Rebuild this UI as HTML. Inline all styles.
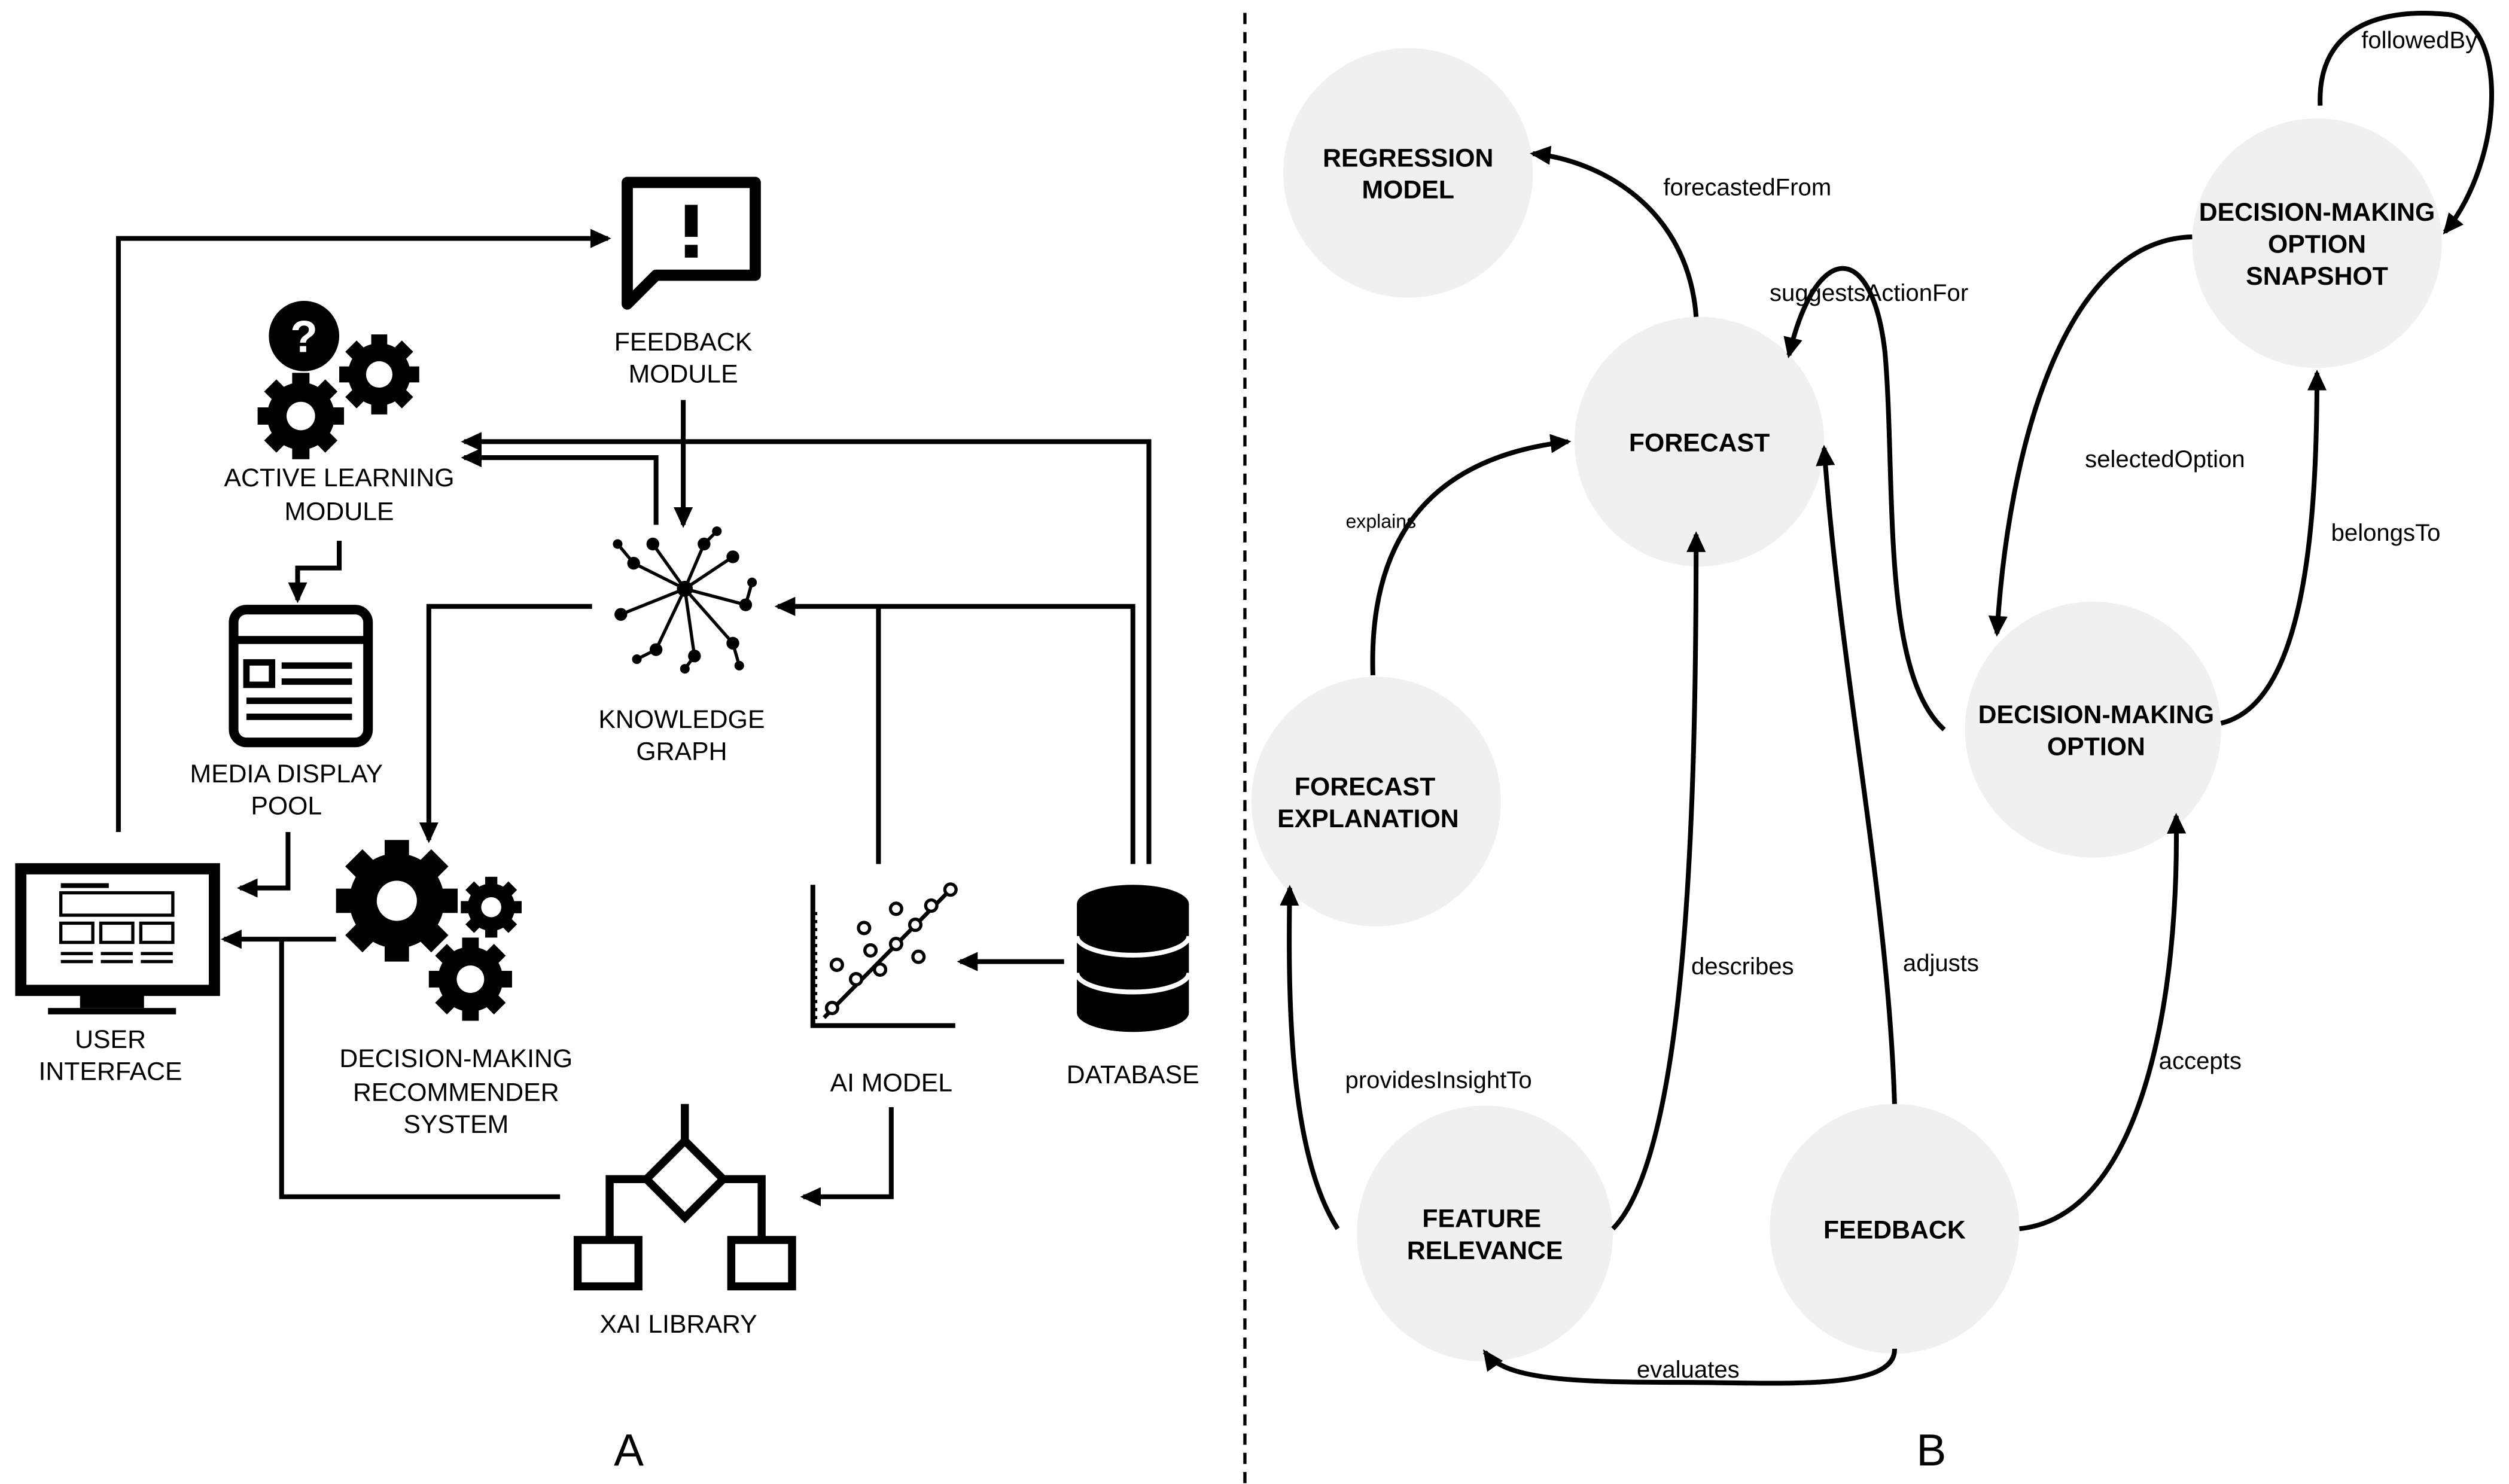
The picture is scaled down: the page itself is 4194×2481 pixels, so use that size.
<!DOCTYPE html>
<html><head><meta charset="utf-8"><style>
html,body{margin:0;padding:0;background:#fff;}
svg{display:block;}
text{font-family:"Liberation Sans",Arial,sans-serif;}
</style></head><body>
<svg width="4194" height="2481" viewBox="0 0 1568 927.5" xmlns="http://www.w3.org/2000/svg">
<defs>
<marker id="ar" markerUnits="userSpaceOnUse" markerWidth="13" markerHeight="12" refX="11" refY="6" orient="auto"><path d="M0,0 L13,6 L0,12 z" fill="#000"/></marker>
<g id="gear">
<circle r="0.78" fill="#000"/>
<rect x="-0.2" y="-1" width="0.4" height="0.4" fill="#000"/>
<rect x="-0.2" y="-1" width="0.4" height="0.4" fill="#000" transform="rotate(45)"/>
<rect x="-0.2" y="-1" width="0.4" height="0.4" fill="#000" transform="rotate(90)"/>
<rect x="-0.2" y="-1" width="0.4" height="0.4" fill="#000" transform="rotate(135)"/>
<rect x="-0.2" y="-1" width="0.4" height="0.4" fill="#000" transform="rotate(180)"/>
<rect x="-0.2" y="-1" width="0.4" height="0.4" fill="#000" transform="rotate(225)"/>
<rect x="-0.2" y="-1" width="0.4" height="0.4" fill="#000" transform="rotate(270)"/>
<rect x="-0.2" y="-1" width="0.4" height="0.4" fill="#000" transform="rotate(315)"/>
<circle r="0.33" fill="#fff"/>
</g>
</defs>
<rect width="1568" height="927.5" fill="#fff"/>
<line x1="778" y1="8" x2="778" y2="927" stroke="#000" stroke-width="2" stroke-dasharray="7,5"/>

<g font-size="16" text-anchor="middle" fill="#000">
<path d="M392,114 H472 V172 H410 L392,190 Z" fill="none" stroke="#000" stroke-width="7" stroke-linejoin="round"/>
<rect x="428" y="128" width="8" height="20" fill="#000"/><rect x="428" y="153" width="8" height="8" fill="#000"/>
<text x="427" y="219">FEEDBACK</text><text x="427" y="239">MODULE</text>
<use href="#gear" transform="translate(237,234) scale(25)"/>
<use href="#gear" transform="translate(188,260) scale(27)"/>
<circle cx="190" cy="210" r="22" fill="#000"/>
<text x="190" y="220" fill="#fff" font-size="28" font-weight="bold">?</text>
<text x="212" y="304">ACTIVE LEARNING</text><text x="212" y="325">MODULE</text>
<rect x="146" y="381" width="84" height="83" rx="8" fill="none" stroke="#000" stroke-width="6"/>
<line x1="146" y1="400" x2="230" y2="400" stroke="#000" stroke-width="5"/>
<rect x="154" y="414" width="16" height="14" fill="none" stroke="#000" stroke-width="4"/>
<line x1="176" y1="416" x2="220" y2="416" stroke="#000" stroke-width="4"/>
<line x1="176" y1="426" x2="220" y2="426" stroke="#000" stroke-width="4"/>
<line x1="154" y1="438" x2="220" y2="438" stroke="#000" stroke-width="4"/>
<line x1="154" y1="448" x2="220" y2="448" stroke="#000" stroke-width="4"/>
<text x="179" y="489">MEDIA DISPLAY</text><text x="179" y="509">POOL</text>
<g stroke="#000" stroke-width="2">
<line x1="428" y1="368" x2="396" y2="352"/><line x1="428" y1="368" x2="408" y2="340"/><line x1="428" y1="368" x2="440" y2="340"/>
<line x1="428" y1="368" x2="458" y2="348"/><line x1="428" y1="368" x2="466" y2="378"/><line x1="428" y1="368" x2="458" y2="402"/>
<line x1="428" y1="368" x2="434" y2="410"/><line x1="428" y1="368" x2="410" y2="406"/><line x1="428" y1="368" x2="388" y2="384"/>
<line x1="396" y1="352" x2="386" y2="340"/><line x1="440" y1="340" x2="448" y2="332"/><line x1="458" y1="402" x2="462" y2="416"/>
<line x1="410" y1="406" x2="398" y2="412"/><line x1="466" y1="378" x2="470" y2="364"/><line x1="434" y1="410" x2="428" y2="418"/>
</g>
<g fill="#000">
<circle cx="428" cy="368" r="5"/><circle cx="396" cy="352" r="4"/><circle cx="408" cy="340" r="4"/><circle cx="440" cy="340" r="4"/>
<circle cx="458" cy="348" r="4"/><circle cx="466" cy="378" r="4"/><circle cx="458" cy="402" r="4"/><circle cx="434" cy="410" r="4"/>
<circle cx="410" cy="406" r="4"/><circle cx="388" cy="384" r="4"/><circle cx="386" cy="340" r="3"/><circle cx="448" cy="332" r="3"/>
<circle cx="462" cy="416" r="3"/><circle cx="398" cy="412" r="3"/><circle cx="470" cy="364" r="3"/><circle cx="428" cy="418" r="3"/>
</g>
<text x="426" y="455">KNOWLEDGE</text><text x="426" y="475">GRAPH</text>
<rect x="13" y="543" width="121" height="76" fill="none" stroke="#000" stroke-width="7"/>
<rect x="50" y="620" width="40" height="10" fill="#000"/>
<rect x="30" y="630" width="80" height="4" fill="#000"/>
<rect x="38" y="552" width="30" height="3" fill="#000"/>
<rect x="38" y="558" width="70" height="14" fill="none" stroke="#000" stroke-width="2"/>
<rect x="38" y="577" width="20" height="12" fill="none" stroke="#000" stroke-width="2"/>
<rect x="63" y="577" width="20" height="12" fill="none" stroke="#000" stroke-width="2"/>
<rect x="88" y="577" width="20" height="12" fill="none" stroke="#000" stroke-width="2"/>
<g stroke="#000" stroke-width="2"><line x1="38" y1="596" x2="58" y2="596"/><line x1="63" y1="596" x2="83" y2="596"/><line x1="88" y1="596" x2="108" y2="596"/>
<line x1="38" y1="601" x2="58" y2="601"/><line x1="63" y1="601" x2="83" y2="601"/><line x1="88" y1="601" x2="108" y2="601"/></g>
<text x="69" y="655">USER</text><text x="69" y="675">INTERFACE</text>
<use href="#gear" transform="translate(248,563) scale(38)"/>
<use href="#gear" transform="translate(307,567) scale(19)"/>
<use href="#gear" transform="translate(294,612) scale(26)"/>
<text x="285" y="667">DECISION-MAKING</text><text x="285" y="688">RECOMMENDER</text><text x="285" y="708">SYSTEM</text>
<path d="M508,553 V641 H597" fill="none" stroke="#000" stroke-width="3"/>
<g stroke="#000" stroke-width="1.5" stroke-dasharray="2,3"><line x1="510" y1="570" x2="510" y2="640"/></g>
<line x1="515" y1="636" x2="594" y2="556" stroke="#000" stroke-width="2.5"/>
<g fill="#fff" stroke="#000" stroke-width="2">
<circle cx="520" cy="630" r="3.5"/><circle cx="523" cy="603" r="3.5"/><circle cx="535" cy="612" r="3.5"/><circle cx="544" cy="594" r="3.5"/>
<circle cx="550" cy="606" r="3.5"/><circle cx="560" cy="590" r="3.5"/><circle cx="560" cy="568" r="3.5"/><circle cx="572" cy="578" r="3.5"/>
<circle cx="582" cy="566" r="3.5"/><circle cx="594" cy="556" r="3.5"/><circle cx="574" cy="598" r="3.5"/><circle cx="540" cy="580" r="3.5"/></g>
<text x="557" y="682">AI MODEL</text>
<path d="M673,565 V633 A35,12 0 0 0 743,633 V565" fill="#000"/>
<ellipse cx="708" cy="565" rx="35" ry="12" fill="#000"/>
<path d="M673,585 A35,12 0 0 0 743,585 M673,608 A35,12 0 0 0 743,608" fill="none" stroke="#fff" stroke-width="3"/>
<text x="708" y="677">DATABASE</text>
<path d="M428,713 L452,737 L428,761 L404,737 Z" fill="none" stroke="#000" stroke-width="5"/>
<line x1="428" y1="690" x2="428" y2="713" stroke="#000" stroke-width="5"/>
<path d="M404,737 H381 V774 M452,737 H476 V774" fill="none" stroke="#000" stroke-width="5"/>
<rect x="361" y="775" width="38" height="29" fill="none" stroke="#000" stroke-width="5"/>
<rect x="457" y="775" width="38" height="29" fill="none" stroke="#000" stroke-width="5"/>
<text x="424" y="833">XAI LIBRARY</text>
<text x="393" y="916" font-size="28">A</text>
<text x="1207" y="916" font-size="28">B</text>
</g>

<g fill="none" stroke="#000" stroke-width="3">
<path d="M74,520 V149 H380" marker-end="url(#ar)"/>
<path d="M427,250 V328" marker-end="url(#ar)"/>
<path d="M410,328 V286 H290" marker-end="url(#ar)"/>
<path d="M718,540 V276 H290" marker-end="url(#ar)"/>
<path d="M212,338 V355 H186 V375" marker-end="url(#ar)"/>
<path d="M370,379 H268 V525" marker-end="url(#ar)"/>
<path d="M708,540 V379 H486" marker-end="url(#ar)"/>
<path d="M549,540 V379"/>
<path d="M665,601 H600" marker-end="url(#ar)"/>
<path d="M180,520 V555 H150" marker-end="url(#ar)"/>
<path d="M210,587 H140" marker-end="url(#ar)"/>
<path d="M350,748 H176 V587"/>
<path d="M557,692 V748 H502" marker-end="url(#ar)"/>
</g>

<g fill="#f0f0f0">
<circle cx="880" cy="108" r="78"/>
<circle cx="1062" cy="276" r="78"/>
<circle cx="1448" cy="152" r="78"/>
<circle cx="1308" cy="456" r="80"/>
<circle cx="860" cy="501" r="78"/>
<circle cx="928" cy="771" r="80"/>
<circle cx="1184" cy="768" r="78"/>
</g>
<g font-size="16" font-weight="bold" text-anchor="middle" fill="#000">
<text x="880" y="104">REGRESSION</text><text x="880" y="124">MODEL</text>
<text x="1062" y="282">FORECAST</text>
<text x="1448" y="138">DECISION-MAKING</text><text x="1448" y="158">OPTION</text><text x="1448" y="178">SNAPSHOT</text>
<text x="1310" y="452">DECISION-MAKING</text><text x="1310" y="472">OPTION</text>
<text x="853" y="497">FORECAST</text><text x="855" y="517">EXPLANATION</text>
<text x="926" y="767">FEATURE</text><text x="928" y="787">RELEVANCE</text>
<text x="1184" y="774">FEEDBACK</text>
</g>

<g fill="none" stroke="#000" stroke-width="3">
<path d="M1060,198 C1055,130 1000,100 958,96" marker-end="url(#ar)"/>
<path d="M1215,456 C1175,420 1185,300 1178,220 C1170,150 1135,150 1118,222" marker-end="url(#ar)"/>
<path d="M858,422 C855,330 900,285 980,276" marker-end="url(#ar)"/>
<path d="M1008,768 C1055,720 1060,500 1060,334" marker-end="url(#ar)"/>
<path d="M1184,690 C1180,560 1150,420 1140,280" marker-end="url(#ar)"/>
<path d="M836,768 C805,720 805,620 806,555" marker-end="url(#ar)"/>
<path d="M1184,843 C1185,870 1110,864 1050,864 C980,864 940,862 928,845" marker-end="url(#ar)"/>
<path d="M1262,768 C1340,760 1362,620 1360,510" marker-end="url(#ar)"/>
<path d="M1370,148 C1290,150 1255,280 1248,396" marker-end="url(#ar)"/>
<path d="M1388,452 C1440,440 1448,330 1448,233" marker-end="url(#ar)"/>
<path d="M1450,66 C1448,15 1490,5 1530,9 C1568,14 1565,100 1528,145" marker-end="url(#ar)"/>
</g>
<g font-size="15" text-anchor="middle" fill="#000">
<text x="1092" y="122">forecastedFrom</text>
<text x="1168" y="188">suggestsActionFor</text>
<text x="863" y="330" font-size="12">explains</text>
<text x="1089" y="609">describes</text>
<text x="1213" y="607">adjusts</text>
<text x="899" y="680">providesInsightTo</text>
<text x="1055" y="861">evaluates</text>
<text x="1375" y="668">accepts</text>
<text x="1353" y="292">selectedOption</text>
<text x="1491" y="338">belongsTo</text>
<text x="1512" y="30">followedBy</text>
</g>
</svg>
</body></html>
